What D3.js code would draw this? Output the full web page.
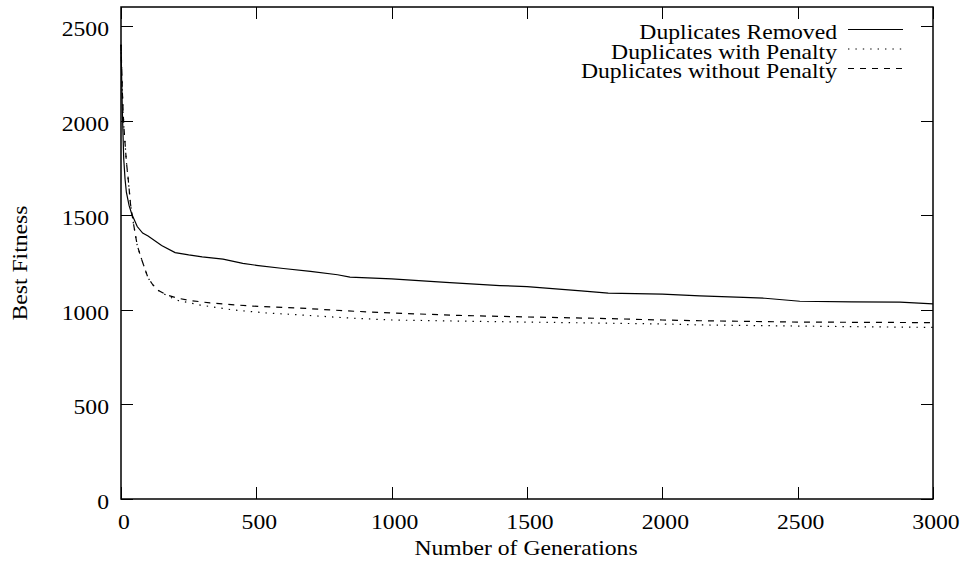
<!DOCTYPE html>
<html>
<head>
<meta charset="utf-8">
<script src="https://cdn.jsdelivr.net/npm/d3@7"></script>
<style>
  html, body { margin: 0; padding: 0; background: #fff; }
  svg { display: block; }
  text { font-family: "Liberation Serif", "Times New Roman", serif; fill: #000; }
</style>
</head>
<body>
<svg id="chart" width="964" height="567"></svg>
<script>
// Best fitness per generation for three duplicate-handling strategies
const seriesNames = ["Duplicates Removed", "Duplicates with Penalty", "Duplicates without Penalty"];

const removedGen = [0, 5, 10, 15, 20, 30, 40, 60, 80, 100, 150, 200, 250, 300, 377, 450, 500, 600, 700, 800, 846, 1000, 1200, 1400, 1500, 1700, 1800, 2000, 2139, 2300, 2379, 2508, 2700, 2878, 3000];
const removedFit = [2400, 2050, 1800, 1690, 1620, 1550, 1505, 1440, 1405, 1390, 1340, 1302, 1290, 1280, 1268, 1245, 1235, 1218, 1203, 1185, 1173, 1163, 1145, 1128, 1122, 1100, 1088, 1083, 1073, 1066, 1061, 1045, 1042, 1040, 1031];

const penaltyGen = [0, 5, 10, 15, 20, 27, 35, 45, 60, 77, 100, 118, 140, 169, 207, 292, 415, 538, 661, 834, 1000, 1250, 1500, 1750, 2000, 2139, 2500, 2750, 3000];
const penaltyFit = [2400, 2150, 1980, 1880, 1780, 1686, 1560, 1464, 1340, 1263, 1168, 1131, 1100, 1075, 1050, 1025, 999, 983, 973, 957, 946, 940, 935, 930, 925, 920, 914, 910, 907];

const noPenaltyGen = [0, 5, 10, 15, 20, 27, 35, 45, 60, 77, 100, 118, 140, 169, 207, 250, 329, 477, 661, 834, 1000, 1250, 1500, 1750, 2000, 2139, 2500, 3000];
const noPenaltyFit = [2400, 2150, 1980, 1880, 1780, 1686, 1560, 1464, 1340, 1263, 1168, 1131, 1100, 1078, 1062, 1050, 1036, 1020, 1009, 994, 983, 970, 962, 955, 946, 942, 935, 932];

const xTicks = [0, 500, 1000, 1500, 2000, 2500, 3000];
const yTicks = [0, 500, 1000, 1500, 2000, 2500];

const svg = d3.select("#chart");
const plotL = 121, plotR = 933, plotT = 7, plotB = 499;

const x = d3.scaleLinear().domain([0, 3000]).range([plotL, plotR]);
const y = d3.scaleLinear().domain([0, 2600]).range([plotB, plotT]);

const tickLen = 12;
const fontSize = 21.5;
const stretch = 1.1; // glyphs are set slightly wide

// Place a text at (px, py) with horizontal stretch and optional rotation
function label(parent, px, py, str, anchor, rot) {
  return parent.append("text")
    .attr("transform", `translate(${px},${py})` + (rot ? ` rotate(${rot})` : "") + ` scale(${stretch},1)`)
    .attr("text-anchor", anchor)
    .attr("font-size", fontSize)
    .text(str);
}

// Ticks on all four sides, pointing inward
const g = svg.append("g").attr("stroke", "#000").attr("stroke-width", 1);
xTicks.forEach(t => {
  const px = Math.round(x(t)) + 0.5;
  g.append("line").attr("x1", px).attr("x2", px).attr("y1", plotB).attr("y2", plotB - tickLen);
  g.append("line").attr("x1", px).attr("x2", px).attr("y1", plotT).attr("y2", plotT + tickLen);
});
yTicks.forEach(t => {
  const py = Math.round(y(t)) + 0.5;
  g.append("line").attr("x1", plotL).attr("x2", plotL + tickLen).attr("y1", py).attr("y2", py);
  g.append("line").attr("x1", plotR).attr("x2", plotR - tickLen).attr("y1", py).attr("y2", py);
});

// Tick labels
const tl = svg.append("g");
xTicks.forEach(t => label(tl, x(t) + 3, 529, String(t), "middle"));
yTicks.forEach(t => label(tl, 109, y(t) + 10, String(t), "end"));

// Axis titles
label(svg, 526, 555, "Number of Generations", "middle");
label(svg, 27, 263, "Best Fitness", "middle", -90);

// Series
const series = [
  { name: seriesNames[0], gen: removedGen, fit: removedFit, dash: null },
  { name: seriesNames[1], gen: penaltyGen, fit: penaltyFit, dash: "1.4,6" },
  { name: seriesNames[2], gen: noPenaltyGen, fit: noPenaltyFit, dash: "6,6" }
];

const line = d3.line().x(d => x(d[0])).y(d => y(d[1]));

series.forEach(s => {
  const pts = s.gen.map((gv, i) => [gv, s.fit[i]]);
  svg.append("path").datum(pts)
    .attr("d", line)
    .attr("fill", "none").attr("stroke", "#000").attr("stroke-width", 1.2)
    .attr("stroke-dasharray", s.dash);
});

// Legend
const lg = svg.append("g");
series.forEach((s, i) => {
  const baseY = 39 + i * 19.5;
  label(lg, 837, baseY, s.name, "end");
  lg.append("line").attr("x1", 848).attr("x2", 903)
    .attr("y1", baseY - 9.5).attr("y2", baseY - 9.5)
    .attr("stroke", "#000").attr("stroke-width", 1.2)
    .attr("stroke-dasharray", s.dash);
});

// Plot border
svg.append("rect").attr("x", plotL).attr("y", plotT)
  .attr("width", plotR - plotL).attr("height", plotB - plotT)
  .attr("fill", "none").attr("stroke", "#000").attr("stroke-width", 1.5);
</script>
</body>
</html>
